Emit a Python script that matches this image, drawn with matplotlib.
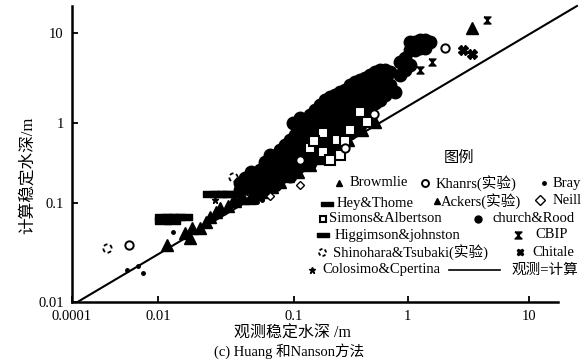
import matplotlib
matplotlib.use("Agg")
import matplotlib.pyplot as plt
import numpy as np
from matplotlib.lines import Line2D
from matplotlib.path import Path

plt.rcParams['font.family'] = ['Liberation Serif', 'Noto Sans CJK SC']

# ---- data (m) ----
church_x = [0.040, 0.040, 0.044, 0.048, 0.048, 0.052, 0.052, 0.056, 0.056, 0.056,
            0.061, 0.061, 0.061, 0.067, 0.067, 0.067, 0.072, 0.072, 0.072,
            0.079, 0.079, 0.079, 0.086, 0.086, 0.086, 0.094, 0.094, 0.094, 0.094,
            0.098, 0.102, 0.102, 0.102, 0.102,
            0.113, 0.113, 0.113, 0.113, 0.113, 0.125, 0.125, 0.125, 0.125,
            0.138, 0.138, 0.138, 0.138, 0.138, 0.153, 0.153, 0.153, 0.153, 0.153,
            0.169, 0.169, 0.169, 0.169, 0.169, 0.187, 0.187, 0.187, 0.187, 0.187,
            0.207, 0.207, 0.207, 0.207, 0.207, 0.229, 0.229, 0.229, 0.229, 0.229,
            0.253, 0.253, 0.253, 0.253, 0.253, 0.280, 0.280, 0.280, 0.280, 0.280,
            0.310, 0.310, 0.310, 0.310, 0.310, 0.343, 0.343, 0.343, 0.343, 0.343,
            0.379, 0.379, 0.379, 0.379, 0.379, 0.419, 0.419, 0.419, 0.419, 0.419,
            0.464, 0.464, 0.464, 0.464, 0.513, 0.513, 0.513, 0.513,
            0.568, 0.568, 0.568, 0.568, 0.628, 0.628, 0.628,
            0.695, 0.695, 0.77, 0.85, 0.85,
            0.94, 0.94, 1.04, 1.04, 1.04, 1.14, 1.14, 1.26, 1.26,
            1.38, 1.38, 1.52]
church_y = [0.145, 0.178, 0.205, 0.154, 0.244, 0.183, 0.126, 0.259, 0.168, 0.205,
            0.224, 0.326, 0.145, 0.274, 0.194, 0.398, 0.345, 0.244, 0.168,
            0.460, 0.299, 0.205, 0.365, 0.259, 0.531, 0.613, 0.434, 0.299, 0.218,
            1.0, 0.708, 0.487, 0.345, 0.259,
            1.14, 0.818, 0.579, 0.398, 0.29, 0.944, 0.649, 0.460, 0.326,
            1.23, 0.866, 0.613, 0.398, 0.32, 1.39, 1.03, 0.708, 0.487, 0.365,
            1.58, 1.14, 0.818, 0.562, 0.398, 1.80, 1.33, 0.944, 0.649, 0.460,
            1.94, 1.47, 1.08, 0.750, 0.501, 2.05, 1.58, 1.14, 0.818, 0.531,
            2.21, 1.71, 1.23, 0.866, 0.613, 2.33, 1.80, 1.33, 0.944, 0.668,
            2.64, 1.94, 1.47, 1.08, 0.750, 2.85, 2.15, 1.58, 1.17, 0.866,
            3.00, 2.33, 1.71, 1.29, 0.944, 3.16, 2.45, 1.90, 1.39, 1.08,
            3.41, 2.64, 2.05, 1.51, 3.69, 2.85, 2.21, 1.67,
            3.88, 3.00, 2.33, 1.80, 3.88, 3.16, 2.05,
            3.69, 2.64, 2.21, 4.76, 3.41,
            5.28, 3.88, 7.94, 6.47, 4.41, 7.94, 6.47, 8.36, 6.81,
            8.36, 6.81, 7.94]

browmlie_x = [0.0116, 0.0158, 0.0172, 0.0178, 0.0204, 0.0225, 0.0241, 0.0267, 0.0286,
              0.0327, 0.0368, 0.0422, 0.0475, 0.0543, 0.061, 0.0689, 0.079, 0.0903,
              0.108, 0.138, 0.176, 0.229, 0.298, 0.394, 0.513, 3.38]
browmlie_y = [0.0377, 0.0498, 0.0443, 0.0558, 0.0558, 0.0643, 0.0722, 0.0811, 0.0889,
              0.0933, 0.106, 0.115, 0.115, 0.13, 0.137, 0.158, 0.183, 0.218,
              0.244, 0.299, 0.365, 0.46, 0.613, 0.818, 1.03, 11.4]

hey_x = [0.0245, 0.0276, 0.0311, 0.0338]
hey_y = [0.130, 0.130, 0.130, 0.130]
higg_x = [0.0109, 0.0123, 0.0138, 0.0155, 0.0109, 0.0127]
higg_y = [0.0722, 0.0722, 0.0722, 0.0722, 0.0658, 0.0658]

khanrs_x = [0.0021, 0.113, 0.28, 0.50, 2.02]
khanrs_y = [0.0377, 0.345, 0.487, 1.25, 6.81]
shino_x = [0.00065, 0.0356]
shino_y = [0.035, 0.211]
bray_x = [0.0019, 0.0034, 0.0045, 0.0129, 0.0534, 0.058]
bray_y = [0.0211, 0.0231, 0.0196, 0.0509, 0.103, 0.109]
ackers_x = [0.035, 0.040, 0.058]
ackers_y = [0.109, 0.119, 0.145]
neill_x = [0.067, 0.113]
neill_y = [0.122, 0.168]
simons_x = [0.138, 0.180, 0.180, 0.238, 0.253, 0.310, 0.379, 0.436, 0.207, 0.150, 0.280]
simons_y = [0.487, 0.434, 0.750, 0.613, 0.398, 0.818, 1.33, 1.03, 0.345, 0.60, 0.60]
cbip_x = [4.5, 1.58, 1.26]
cbip_y = [13.9, 4.76, 3.88]
chitale_x = [2.85, 3.38]
chitale_y = [6.47, 5.84]
colosimo_x = [0.0262, 0.044]
colosimo_y = [0.109, 0.137]

# 1:1 line (观测=计算) ends
line_x = [1.45e-4, 25]
line_y = [0.0102, 20]

xticks = [0.0001, 0.01, 0.1, 1, 10]
xtick_labels = ['0.0001', '0.01', '0.1', '1', '10']
yticks = [0.01, 0.1, 1, 10]
ytick_labels = ['0.01', '0.1', '1', '10']

# the printed axes are not evenly spaced per decade, so map log10 piecewise
X_LOG = [-12, -4, -2, -1, 0, 1, 5]
X_POS = [-272, 72, 158, 294, 408, 529, 1013]
Y_LOG = [-12, -2, -1, 0, 1, 5]
Y_POS = [-990, 0, 99, 179, 269, 629]


def make_scale(logs, pos):
    def fwd(v):
        v = np.clip(np.asarray(v, dtype=float), 1e-12, None)
        return np.interp(np.log10(v), logs, pos)

    def inv(p):
        return 10 ** np.interp(np.asarray(p, dtype=float), pos, logs)
    return fwd, inv


bar = [(-1, -0.33), (1, -0.33), (1, 0.33), (-1, 0.33), (-1, -0.33)]
hourglass = [(-1, 1), (1, 1), (-1, -1), (1, -1), (-1, 1)]
dotted_circle = Path.make_compound_path(*[Path.arc(a, a + 55) for a in range(0, 360, 90)])

styles = {
    'Browmlie': dict(marker='^', mfc='k', mec='k'),
    'Khanrs(实验)': dict(marker='o', mfc='white', mec='k', mew=1.4),
    'Bray': dict(marker='.', mfc='k', mec='k'),
    'Hey&Thome': dict(marker=bar, mfc='k', mec='k'),
    'Ackers(实验)': dict(marker='^', mfc='k', mec='k'),
    'Neill': dict(marker='D', mfc='white', mec='k', mew=1.0),
    'Simons&Albertson': dict(marker='s', mfc='white', mec='k', mew=1.5),
    'church&Rood': dict(marker='o', mfc='k', mec='k'),
    'Higgimson&johnston': dict(marker=bar, mfc='k', mec='k'),
    'CBIP': dict(marker=hourglass, mfc='k', mec='k'),
    'Shinohara&Tsubaki(实验)': dict(marker=dotted_circle, mfc='none', mec='k', mew=1.3),
    'Chitale': dict(marker='X', mfc='k', mec='k'),
    'Colosimo&Cpertina': dict(marker='*', mfc='k', mec='k'),
}

W, H = 583, 362
fig = plt.figure(figsize=(W / 100, H / 100), dpi=100)
ax = fig.add_axes([72 / W, 60 / H, 508 / W, 296 / H])
ax.set_xscale('function', functions=make_scale(X_LOG, X_POS))
ax.set_yscale('function', functions=make_scale(Y_LOG, Y_POS))

ax.plot(line_x, line_y, color='k', lw=1.5, clip_on=False, zorder=1)

series = [
    ('church&Rood', church_x, church_y, 9),
    ('Browmlie', browmlie_x, browmlie_y, 8),
    ('Ackers(实验)', ackers_x, ackers_y, 5),
    ('Higgimson&johnston', higg_x, higg_y, 11),
    ('Hey&Thome', hey_x, hey_y, 11),
    ('Bray', bray_x, bray_y, 5),
    ('Neill', neill_x, neill_y, 4),
    ('Colosimo&Cpertina', colosimo_x, colosimo_y, 5),
    ('Simons&Albertson', simons_x, simons_y, 6.5),
    ('Khanrs(实验)', khanrs_x, khanrs_y, 6),
    ('Shinohara&Tsubaki(实验)', shino_x, shino_y, 6),
    ('CBIP', cbip_x, cbip_y, 5),
    ('Chitale', chitale_x, chitale_y, 7),
]
for name, xs, ys, ms in series:
    ax.plot(xs, ys, ls='none', ms=ms, clip_on=False, zorder=2, **styles[name])

ax.set_xlim(1e-4, 26.5)
ax.set_ylim(0.01, 20)
ax.set_xticks(xticks)
ax.set_xticklabels(xtick_labels)
ax.set_yticks(yticks)
ax.set_yticklabels(ytick_labels)
ax.minorticks_off()
ax.tick_params(direction='in', length=4, width=1.3, labelsize=10.5)
ax.tick_params(axis='x', pad=6)
ax.tick_params(axis='y', pad=6)
for s in ['top', 'right']:
    ax.spines[s].set_visible(False)
for s in ['left', 'bottom']:
    ax.spines[s].set_linewidth(1.8)
ax.spines['bottom'].set_bounds(1e-4, 17.4)

fig.text(28 / W, 1 - 175 / H, '计算稳定水深/m', rotation=90, ha='center', va='center', fontsize=12)
fig.text(292 / W, 1 - 334 / H, '观测稳定水深 /m', ha='center', va='center', fontsize=11.5)
fig.text(289 / W, 1 - 351 / H, '(c) Huang 和Nanson方法', ha='center', va='center', fontsize=10.5)

# hand laid out legend, like the printed one
fig.text(459 / W, 1 - 158 / H, '图例', ha='center', va='center', fontsize=11)
leg_names = ['Browmlie', 'Khanrs(实验)', 'Bray',
             'Hey&Thome', 'Ackers(实验)', 'Neill',
             'Simons&Albertson', 'church&Rood',
             'Higgimson&johnston', 'CBIP',
             'Shinohara&Tsubaki(实验)', 'Chitale',
             'Colosimo&Cpertina']
leg_mx = [339, 425, 544, 327, 437, 540, 323, 478, 323, 518, 322, 520, 312]
leg_tx = [350, 436, 553, 337, 441, 553, 329, 492, 335, 535, 333, 532, 322]
leg_y = [183, 183, 183, 204, 201, 200, 219, 219, 235, 235, 252, 252, 270]
for name, mx, tx, y in zip(leg_names, leg_mx, leg_tx, leg_y):
    st = dict(styles[name])
    ms = 8 if st['marker'] is bar else 5
    fig.add_artist(Line2D([mx / W], [1 - y / H], transform=fig.transFigure, ls='none', ms=ms, **st))
    fig.text(tx / W, 1 - y / H, name, ha='left', va='center', fontsize=10.5)
fig.add_artist(Line2D([449 / W, 500 / W], [1 - 270 / H, 1 - 270 / H], transform=fig.transFigure, color='k', lw=1.2))
fig.text(512 / W, 1 - 270 / H, '观测=计算', ha='left', va='center', fontsize=10.5)

fig.savefig('out.png', dpi=100)
